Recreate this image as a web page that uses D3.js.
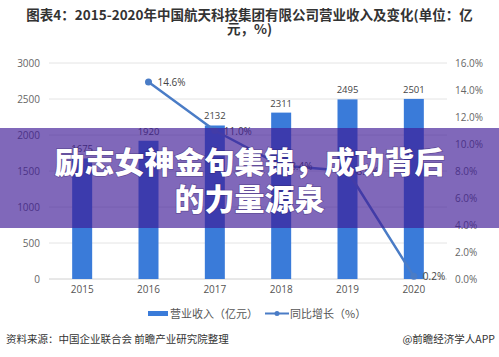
<!DOCTYPE html>
<html><head><meta charset="utf-8">
<script src="https://cdn.jsdelivr.net/npm/d3@7"></script>
<style>
html,body{margin:0;padding:0;background:#fff;}
svg{display:block;font-family:"Noto Sans CJK SC","Noto Sans",sans-serif;}
</style></head>
<body>
<script>
const years = ["2015","2016","2017","2018","2019","2020"];
const revenue = [1675,1920,2132,2311,2495,2501];
const growth = [null,14.6,11.0,8.4,8.0,0.2];
const leftTicks = [0,500,1000,1500,2000,2500,3000];
const rightTicks = [0,2,4,6,8,10,12,14,16];
const titleLines = ["图表4：2015-2020年中国航天科技集团有限公司营业收入及变化(单位：亿","元，%)"];
const legendLabels = ["营业收入（亿元）","同比增长（%）"];
const sourceText = "资料来源：中国企业联合会 前瞻产业研究院整理";
const brandText = "@前瞻经济学人APP";
const bannerLines = ["励志女神金句集锦，成功背后","的力量源泉"];

const W=499,H=357;
const svg=d3.select("body").append("svg").attr("width",W).attr("height",H);
svg.append("rect").attr("width",W).attr("height",H).attr("fill","#fff");

const x=d3.scaleBand().domain(years).range([49,447]);
const yL=d3.scaleLinear().domain([0,3000]).range([279,63]);
const yR=d3.scaleLinear().domain([0,16]).range([279,63]);

// title
svg.selectAll("text.title").data(titleLines).join("text")
  .attr("x",W/2).attr("y",(d,i)=>20+i*14).attr("text-anchor","middle")
  .attr("font-size",13.5).attr("font-weight",600).attr("fill","#333").text(d=>d);

// grid
svg.append("g").selectAll("line").data(leftTicks).join("line")
  .attr("x1",49).attr("x2",447).attr("y1",d=>yL(d)).attr("y2",d=>yL(d))
  .attr("stroke",d=>d===0?"#d0d0d0":"#e4e4e4").attr("stroke-width",1);

// left axis
const gl=svg.append("g").attr("transform","translate(40,0)")
  .call(d3.axisLeft(yL).tickValues(leftTicks).tickSize(0).tickPadding(0).tickFormat(d3.format("d")));
gl.select(".domain").remove();
gl.selectAll("text").attr("font-size",10).attr("fill","#666").attr("font-family","'Open Sans',sans-serif");

// right axis
const gr=svg.append("g").attr("transform","translate(455,0)")
  .call(d3.axisRight(yR).tickValues(rightTicks).tickSize(0).tickPadding(0).tickFormat(d=>d.toFixed(1)+"%"));
gr.select(".domain").remove();
gr.selectAll("text").attr("font-size",10).attr("fill","#666").attr("font-family","'Open Sans',sans-serif");

// x axis
const gx=svg.append("g").attr("transform","translate(0,286)")
  .call(d3.axisBottom(x).tickSize(0).tickPadding(0));
gx.select(".domain").remove();
gx.selectAll("text").attr("font-size",10).attr("fill","#555").attr("dy","0.71em").attr("font-family","'Open Sans',sans-serif");

// bars
const bw=20;
svg.append("g").selectAll("rect").data(revenue).join("rect")
  .attr("x",(d,i)=>x(years[i])+x.bandwidth()/2-bw/2).attr("width",bw)
  .attr("y",d=>yL(d)).attr("height",d=>yL(0)-yL(d)).attr("fill","#3a7bd9");
svg.append("g").selectAll("text").data(revenue).join("text")
  .attr("x",(d,i)=>x(years[i])+x.bandwidth()/2).attr("y",d=>yL(d)-6)
  .attr("text-anchor","middle").attr("font-size",9.5).attr("fill","#444")
  .attr("font-family","'Open Sans',sans-serif").text(d=>d);

// line
const pts=growth.map((g,i)=>({g,i})).filter(d=>d.g!==null);
const line=d3.line().x(d=>x(years[d.i])+x.bandwidth()/2).y(d=>yR(d.g));
svg.append("path").datum(pts).attr("d",line).attr("fill","none")
  .attr("stroke","#4a7cc6").attr("stroke-width",2.5);
svg.append("g").selectAll("circle").data(pts).join("circle")
  .attr("cx",d=>x(years[d.i])+x.bandwidth()/2).attr("cy",d=>yR(d.g)).attr("r",3.5)
  .attr("fill","#4a7cc6");
svg.append("g").selectAll("text").data(pts).join("text")
  .attr("x",d=>x(years[d.i])+x.bandwidth()/2+9).attr("y",d=>yR(d.g)+4)
  .attr("font-size",10).attr("fill","#444").attr("font-family","'Open Sans',sans-serif")
  .text(d=>d.g.toFixed(1)+"%");

// legend
const lg=svg.append("g");
lg.append("rect").attr("x",148).attr("y",311).attr("width",20).attr("height",5).attr("fill","#3a7bd9");
lg.append("text").attr("x",170).attr("y",317.5).attr("font-size",11).attr("fill","#555").text(legendLabels[0]);
lg.append("line").attr("x1",265).attr("x2",289).attr("y1",313.5).attr("y2",313.5).attr("stroke","#4a7cc6").attr("stroke-width",2);
lg.append("circle").attr("cx",277).attr("cy",313.5).attr("r",2.5).attr("fill","#4a7cc6");
lg.append("text").attr("x",290).attr("y",317.5).attr("font-size",11).attr("fill","#555").text(legendLabels[1]);

// footer
svg.append("text").attr("x",6).attr("y",343).attr("font-size",10.5).attr("fill","#333").text(sourceText);
svg.append("text").attr("x",495).attr("y",343).attr("text-anchor","end").attr("font-size",10.5).attr("fill","#333").text(brandText);

// banner
svg.append("rect").attr("x",0).attr("y",128).attr("width",W).attr("height",100).attr("fill","rgb(62,26,150)").attr("opacity",0.66);
svg.selectAll("text.banner").data(bannerLines).join("text")
  .attr("x",W/2).attr("y",(d,i)=>173+i*37).attr("text-anchor","middle")
  .attr("font-size",30).attr("font-weight",900).attr("fill","#fff")
  .attr("style","paint-order:stroke").attr("stroke","rgba(40,20,90,0.35)").attr("stroke-width",1.5)
  .text(d=>d);
</script>
</body></html>
